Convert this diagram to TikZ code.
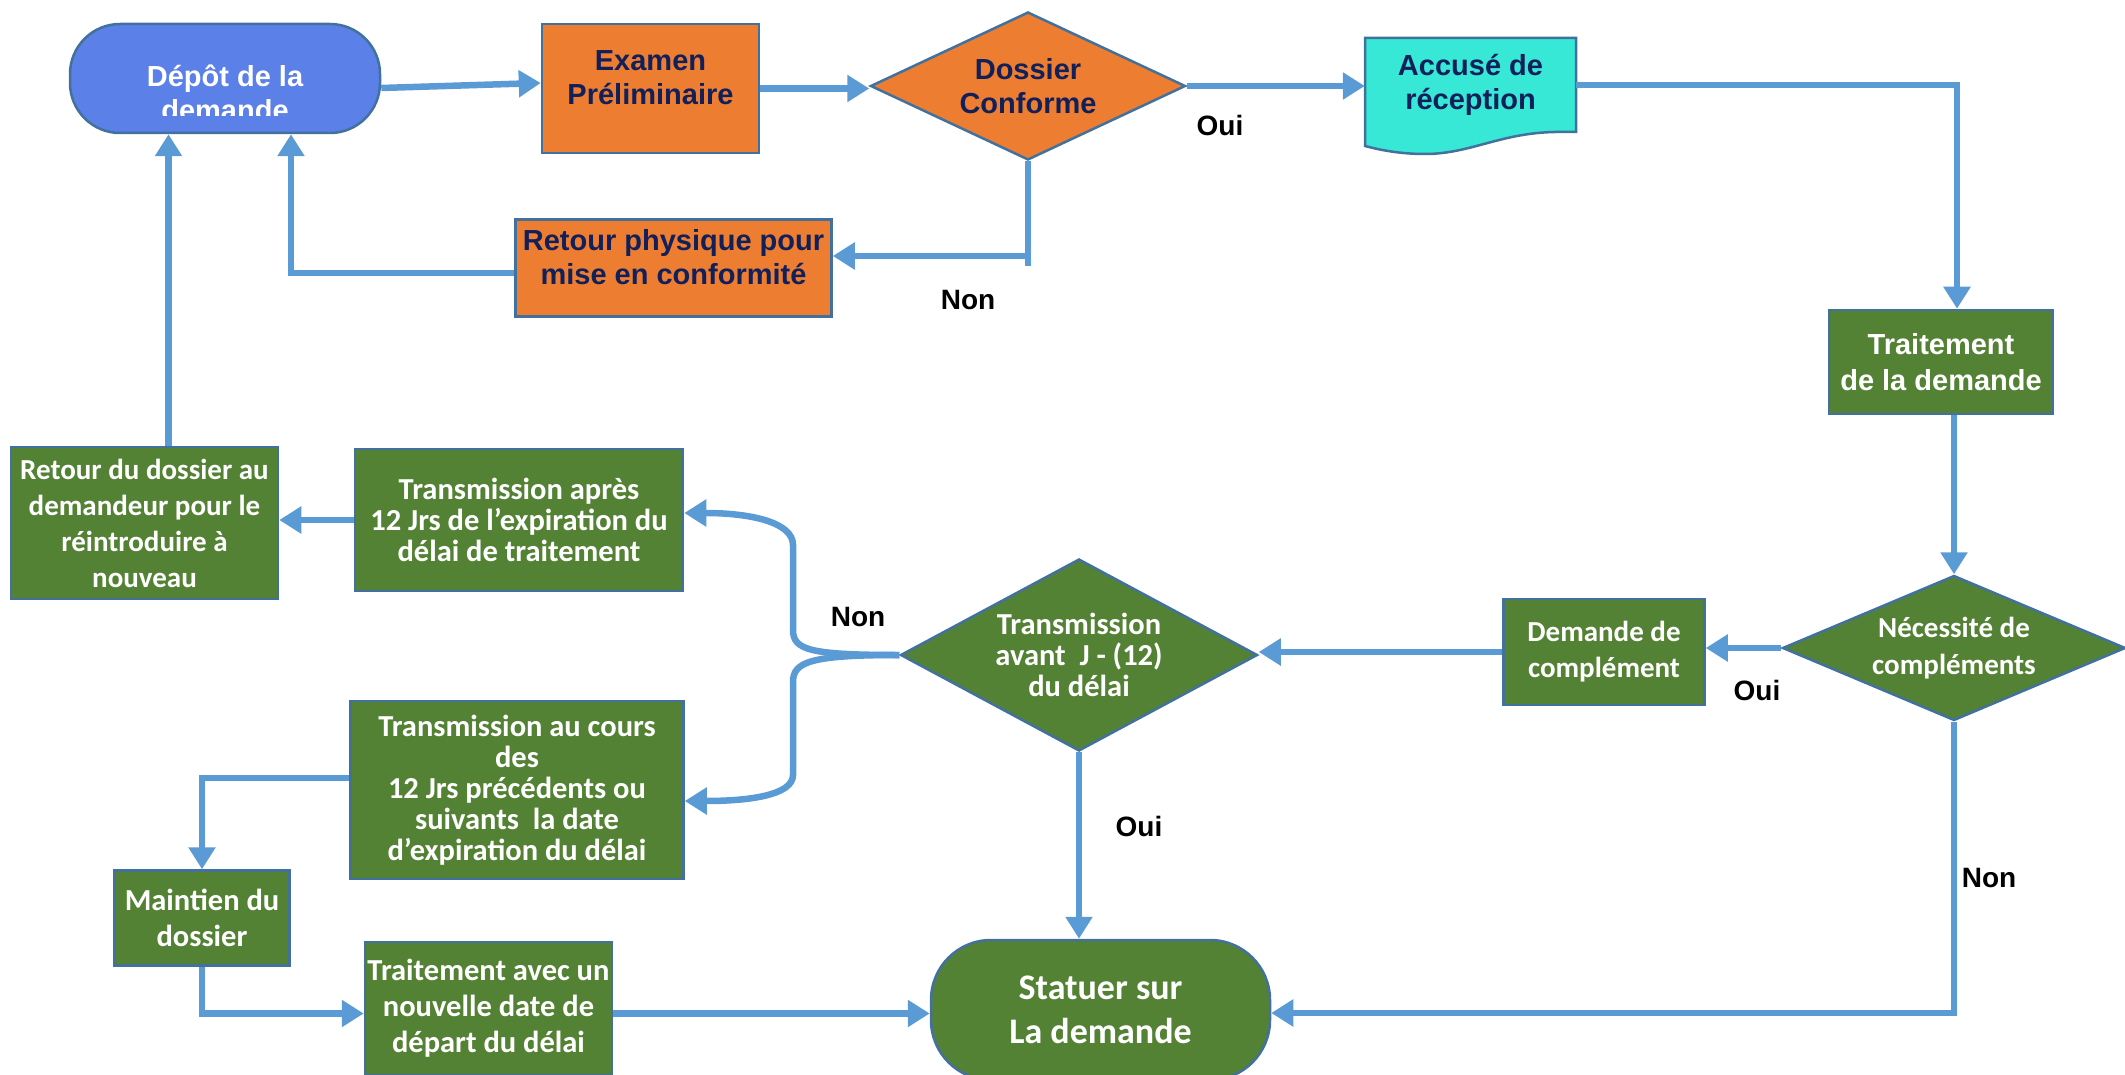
\documentclass[tikz,border=0pt]{standalone}
\usepackage{fontspec}
\setmainfont{Liberation Sans}
\newfontfamily\calb{Carlito}
\usetikzlibrary{shapes.geometric,arrows.meta}
\definecolor{bord}{HTML}{41719C}
\definecolor{arrowc}{HTML}{5B9BD5}
\definecolor{bluef}{HTML}{5B80E8}
\definecolor{orangef}{HTML}{ED7D31}
\definecolor{cyanf}{HTML}{36E8D5}
\definecolor{greenf}{HTML}{548235}
\definecolor{navy}{HTML}{12205A}
\tikzset{
  base/.style={draw=bord, line width=2.5pt, inner sep=0pt, align=center},
  ar/.style={font=\fontsize{29}{34}\selectfont\bfseries, align=center, inner sep=0pt},
  ca/.style={font=\calb\fontsize{30.5}{36}\selectfont\bfseries, align=center, inner sep=0pt},
  catight/.style={font=\calb\fontsize{30.5}{31}\selectfont\bfseries, align=center, inner sep=0pt},
  gbox/.style={base, fill=greenf, text=white},
  arr/.style={draw=arrowc, line width=6.5pt, -{Triangle[length=22pt,width=26pt]}},
  plainline/.style={draw=arrowc, line width=6.5pt},
  lab/.style={font=\fontsize{28}{32}\selectfont\bfseries, text=black, inner sep=0pt},
}
\begin{document}
\begin{tikzpicture}[x=1pt,y=-1pt]
\useasboundingbox (0,0) rectangle (2125,1075);

% ---- top row ----
\node[base, rounded corners=50pt, fill=bluef, minimum width=310pt, minimum height=109pt] (dep) at (225,78.5) {};
\begin{scope}
  \clip (70,24) rectangle (380,116);
  \node[ar, text=white] (depT) at (225,93) {Dépôt de la\\demande};
\end{scope}

\node[base, fill=orangef, minimum width=217pt, minimum height=129pt] (exa) at (650.5,88.5) {};
\node[ar, text=navy] (exaT) at (650.5,78) {Examen\\Préliminaire};

\node[base, ar, diamond, shape aspect=2.1, fill=orangef, text=navy, minimum width=315pt, minimum height=148pt] (dos) at (1028,86) {Dossier\\Conforme};

\path[fill=cyanf, draw=bord, line width=2.5pt]
  (1365,38) -- (1576,38) -- (1576,132) -- (1555,132)
  .. controls (1500,133) and (1470,154) .. (1425,154)
  .. controls (1400,154) and (1380,150) .. (1365,146) -- cycle;
\node[ar, text=navy, minimum width=211pt, minimum height=94pt] (acc) at (1470.5,85) {Accusé de\\réception};

\node[base, fill=orangef, minimum width=316pt, minimum height=97pt] (ret) at (673.5,268) {};
\node[ar, text=navy] (retT) at (673.5,257.5) {Retour physique pour\\mise en conformité};

\node[base, ar, fill=greenf, text=white, minimum width=224pt, minimum height=104pt, font=\fontsize{29}{36}\selectfont\bfseries] (trt) at (1941,362) {Traitement\\de la demande};

% ---- middle ----
\node[base, ca, diamond, shape aspect=2.3, fill=greenf, text=white, minimum width=343pt, minimum height=145pt, font=\calb\fontsize{29}{37}\selectfont\bfseries] (nec) at (1954,648) {Nécessité de\\compléments};

\node[gbox, ca, minimum width=201pt, minimum height=106pt, font=\calb\fontsize{29}{36}\selectfont\bfseries] (dem) at (1604,652) {Demande de\\complément};

\node[base, catight, diamond, shape aspect=1.9, fill=greenf, text=white, minimum width=357pt, minimum height=192pt] (tav) at (1079,655) {Transmission\\avant\ \ J - (12)\\du délai};

\node[gbox, ca, minimum width=267pt, minimum height=152pt, font=\calb\fontsize{29}{36}\selectfont\bfseries] (rdo) at (144.5,523) {Retour du dossier au\\demandeur pour le\\réintroduire à\\nouveau};

\node[gbox, catight, minimum width=328pt, minimum height=142pt] (tap) at (519,520) {Transmission après\\12 Jrs de l’expiration du\\délai de traitement};

\node[gbox, catight, minimum width=333pt, minimum height=178pt] (tac) at (517,790) {Transmission au cours\\des\\12 Jrs précédents ou\\suivants\ \ la date\\d’expiration du délai};

\node[gbox, ca, minimum width=175pt, minimum height=95pt] (mai) at (202,918) {Maintien du\\dossier};

\node[gbox, ca, minimum width=247pt, minimum height=133pt] (tnv) at (488.5,1008.5) {Traitement avec un\\nouvelle date de\\départ du délai};

\node[gbox, rounded corners=60pt, minimum width=339pt, minimum height=140pt, font=\calb\fontsize{36}{44}\selectfont\bfseries] (sta) at (1100.5,1010) {Statuer sur\\La demande};

% ---- labels ----
\node[lab] (l1) at (1220,125) {Oui};
\node[lab] (l2) at (968,300) {Non};
\node[lab] (l3) at (858,617) {Non};
\node[lab] (l4) at (1757,690) {Oui};
\node[lab] (l5) at (1139,826) {Oui};
\node[lab] (l6) at (1989,878) {Non};

% ---- connectors ----
\coordinate (dosend) at ([yshift=-180pt]dos.south);
\draw[arr] ([yshift=-9.5pt]dep.east) -- ([yshift=5.5pt]exa.west);
\draw[arr] (exa.east) -- (exa.east -| dos.west);
\draw[arr] (dos.east) -- (dos.east -| acc.west);
\draw[arr] (acc.east) -| ([xshift=16pt]trt.north);
\draw[plainline] (dos.south) -- (dos.south |- 0,266);
\draw[arr] (dos.south) |- ([yshift=12pt]ret.east);
\draw[arr] ([yshift=-5pt]ret.west) -| ([xshift=66pt]dep.south);
\draw[arr] ([xshift=24pt]rdo.north) -- ([xshift=24pt]rdo.north |- dep.south);
\draw[arr] (nec.north |- trt.south) -- (nec.north);
\draw[arr] (nec.west) -- (nec.west -| dem.east);
\draw[arr] (dem.west) -- (dem.west -| tav.east);
\draw[arr] (tav.south) -- (tav.south |- sta.north);
\draw[arr] (nec.south) |- ([yshift=-3pt]sta.east);
\draw[arr] (tav.west) .. controls (810,655) and (793,650) .. (793,630) -- (793,545)
  .. controls (793,522) and (750,513) .. ([yshift=7pt]tap.east);
\draw[arr] (tav.west) .. controls (810,655) and (793,662) .. (793,682) -- (793,775)
  .. controls (793,795) and (750,801) .. ([yshift=-11pt]tac.east);
\draw[arr] (tap.west) -- (tap.west -| rdo.east);
\draw[arr] ([yshift=12pt]tac.west) -| (mai.north);
\draw[arr] (mai.south) |- ([yshift=-5pt]tnv.west);
\draw[arr] ([yshift=-5pt]tnv.east) -- ([yshift=-5pt]tnv.east -| sta.west);
\end{tikzpicture}
\end{document}
